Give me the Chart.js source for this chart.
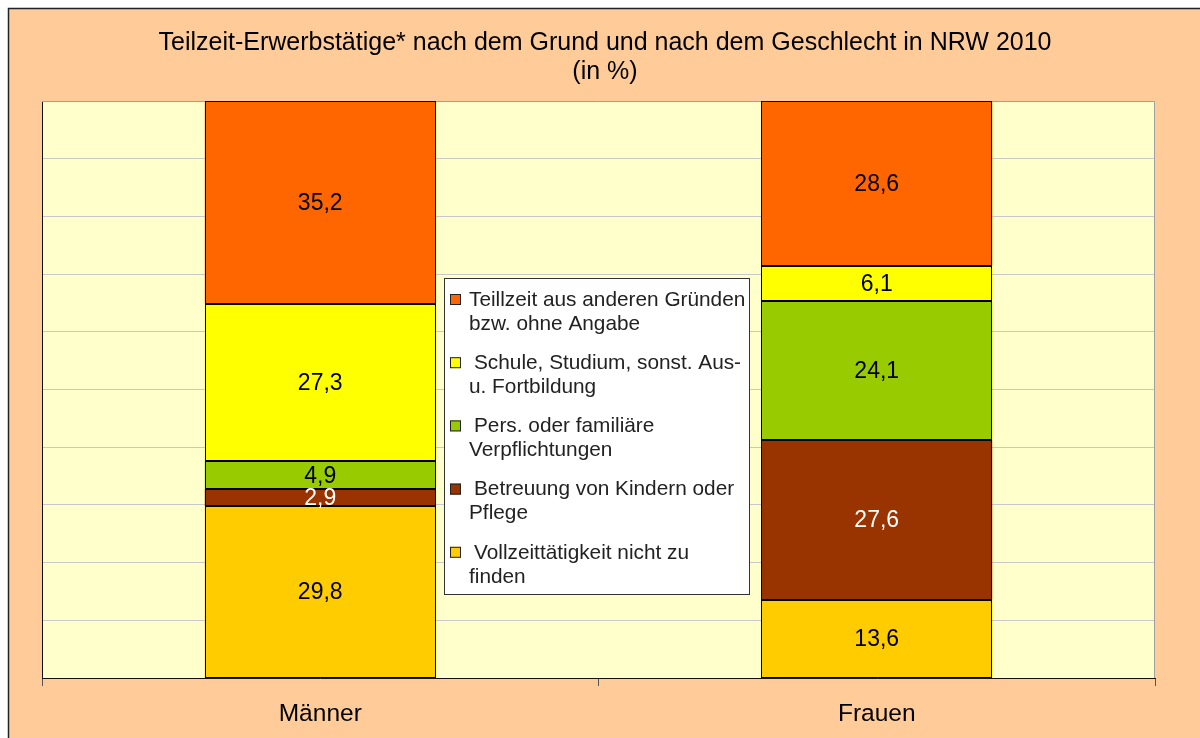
<!DOCTYPE html>
<html><head><meta charset="utf-8">
<script src="https://cdn.jsdelivr.net/npm/chart.js@4"></script>
<style>html,body{margin:0;padding:0;background:#fff}canvas{display:block}</style>
</head><body>
<div style="width:1200px;height:738px"><canvas id="c" width="1200" height="738"></canvas></div>
<script>
const categories = ["Männer", "Frauen"];
const titleLines = ["Teilzeit-Erwerbstätige* nach dem Grund und nach dem Geschlecht in NRW 2010", "(in %)"];
// stacked bottom -> top
const nameVollzeit = ["Vollzeittätigkeit nicht zu", "finden"];
const nameBetreuung = ["Betreuung von Kindern oder", "Pflege"];
const namePers = ["Pers. oder familiäre", "Verpflichtungen"];
const nameSchule = ["Schule, Studium, sonst. Aus-", "u. Fortbildung"];
const nameTeilzeit = ["Teillzeit aus anderen Gründen", "bzw. ohne Angabe"];
const valVollzeit = [29.8, 13.6];
const valBetreuung = [2.9, 27.6];
const valPers = [4.9, 24.1];
const valSchule = [27.3, 6.1];
const valTeilzeit = [35.2, 28.6];
const yTicks = [0, 10, 20, 30, 40, 50, 60, 70, 80, 90, 100];

const FONT = "'Liberation Sans', Arial, sans-serif";
const series = [
  {lines: nameVollzeit, data: valVollzeit, color: '#FFCC00', txt: '#000'},
  {lines: nameBetreuung, data: valBetreuung, color: '#993300', txt: '#fff'},
  {lines: namePers, data: valPers, color: '#99CC00', txt: '#000'},
  {lines: nameSchule, data: valSchule, color: '#FFFF00', txt: '#000'},
  {lines: nameTeilzeit, data: valTeilzeit, color: '#FF6600', txt: '#000'}
];

const bgPlugin = {
  id: 'bg',
  beforeDraw(chart) {
    const ctx = chart.ctx, a = chart.chartArea;
    ctx.save();
    ctx.fillStyle = '#fff'; ctx.fillRect(0, 0, 1200, 738);
    ctx.fillStyle = '#FFCC99'; ctx.fillRect(9, 9, 1200, 738);
    ctx.strokeStyle = '#222'; ctx.lineWidth = 1.5;
    ctx.beginPath(); ctx.moveTo(8.5, 738); ctx.lineTo(8.5, 8.5); ctx.lineTo(1200, 8.5); ctx.stroke();
    ctx.fillStyle = '#FFFFCC'; ctx.fillRect(a.left, a.top, a.right - a.left, a.bottom - a.top);
    ctx.fillStyle = '#000';
    ctx.font = '25px ' + FONT;
    ctx.textAlign = 'center'; ctx.textBaseline = 'middle';
    ctx.fillText(titleLines[0], 605, 43);
    ctx.fillText(titleLines[1], 605, 72);
    ctx.restore();
  },
  afterDatasetsDraw(chart) {
    const ctx = chart.ctx, a = chart.chartArea;
    ctx.save();
    // plot border top/right
    ctx.strokeStyle = '#A0A0A0'; ctx.lineWidth = 1;
    ctx.beginPath(); ctx.moveTo(a.left, a.top + 0.5); ctx.lineTo(a.right - 0.5, a.top + 0.5); ctx.lineTo(a.right - 0.5, a.bottom); ctx.stroke();
    // crisp bar outlines
    ctx.strokeStyle = '#000'; ctx.lineWidth = 1;
    chart.data.datasets.forEach((ds, i) => {
      chart.getDatasetMeta(i).data.forEach(el => {
        const l = Math.round(el.x - el.width / 2) + 0.5, r = Math.round(el.x + el.width / 2) - 0.5;
        const t = Math.round(Math.max(el.y, a.top)) + 0.5, b = Math.round(el.base) - 0.5;
        ctx.strokeRect(l, t, r - l, b - t);
      });
    });
    // data labels
    ctx.font = '23px ' + FONT;
    ctx.textAlign = 'center'; ctx.textBaseline = 'middle';
    chart.data.datasets.forEach((ds, i) => {
      const meta = chart.getDatasetMeta(i);
      meta.data.forEach((el, j) => {
        ctx.fillStyle = series[i].txt;
        ctx.fillText(ds.data[j].toFixed(1).replace('.', ','), el.x, (Math.max(el.y, a.top) + el.base) / 2 + 1);
      });
    });
    // legend
    const lx = 444, ly = 278, lw = 305, lh = 316;
    ctx.fillStyle = '#fff'; ctx.fillRect(lx, ly, lw, lh);
    ctx.strokeStyle = '#333'; ctx.lineWidth = 1;
    ctx.strokeRect(lx + 0.5, ly + 0.5, lw, lh);
    ctx.font = '20.8px ' + FONT;
    ctx.textAlign = 'left';
    const order = series.slice().reverse();
    order.forEach((s, k) => {
      const y0 = 300 + k * 63.2;
      ctx.fillStyle = s.color;
      ctx.fillRect(450, y0 - 6, 11, 11);
      ctx.strokeStyle = '#222'; ctx.strokeRect(450.5, y0 - 5.5, 10, 10);
      ctx.fillStyle = '#222';
      s.lines.forEach((t, m) => ctx.fillText(t, k === 0 || m === 1 ? 469 : 474, y0 + m * 24));
    });
    ctx.restore();
  }
};

new Chart(document.getElementById('c'), {
  type: 'bar',
  data: {
    labels: categories,
    datasets: series.map(s => ({
      label: s.lines.join(' '),
      data: s.data,
      backgroundColor: s.color,
      borderWidth: 0,
      barPercentage: 0.415,
      categoryPercentage: 1
    }))
  },
  options: {
    responsive: false,
    animation: false,
    devicePixelRatio: 1,
    layout: {padding: {left: 42, right: 45, top: 101, bottom: 0}},
    plugins: {legend: {display: false}, title: {display: false}, tooltip: {enabled: false}},
    scales: {
      x: {
        stacked: true,
        offset: true,
        afterFit(s) { s.height = 60; },
        grid: {display: true, drawOnChartArea: false, drawTicks: true, tickLength: 8, color: '#555', offset: true},
        border: {display: true, color: '#111', width: 1},
        ticks: {color: '#000', font: {family: FONT, size: 24.5}, padding: 14}
      },
      y: {
        stacked: true,
        min: 0, max: 100,
        afterFit(s) { s.width = 0; },
        afterBuildTicks(s) { s.ticks = yTicks.map(v => ({value: v})); },
        ticks: {display: false},
        grid: {color: '#C8C8C8', drawTicks: false},
        border: {display: true, color: '#111', width: 1}
      }
    }
  },
  plugins: [bgPlugin]
});
</script>
</body></html>
